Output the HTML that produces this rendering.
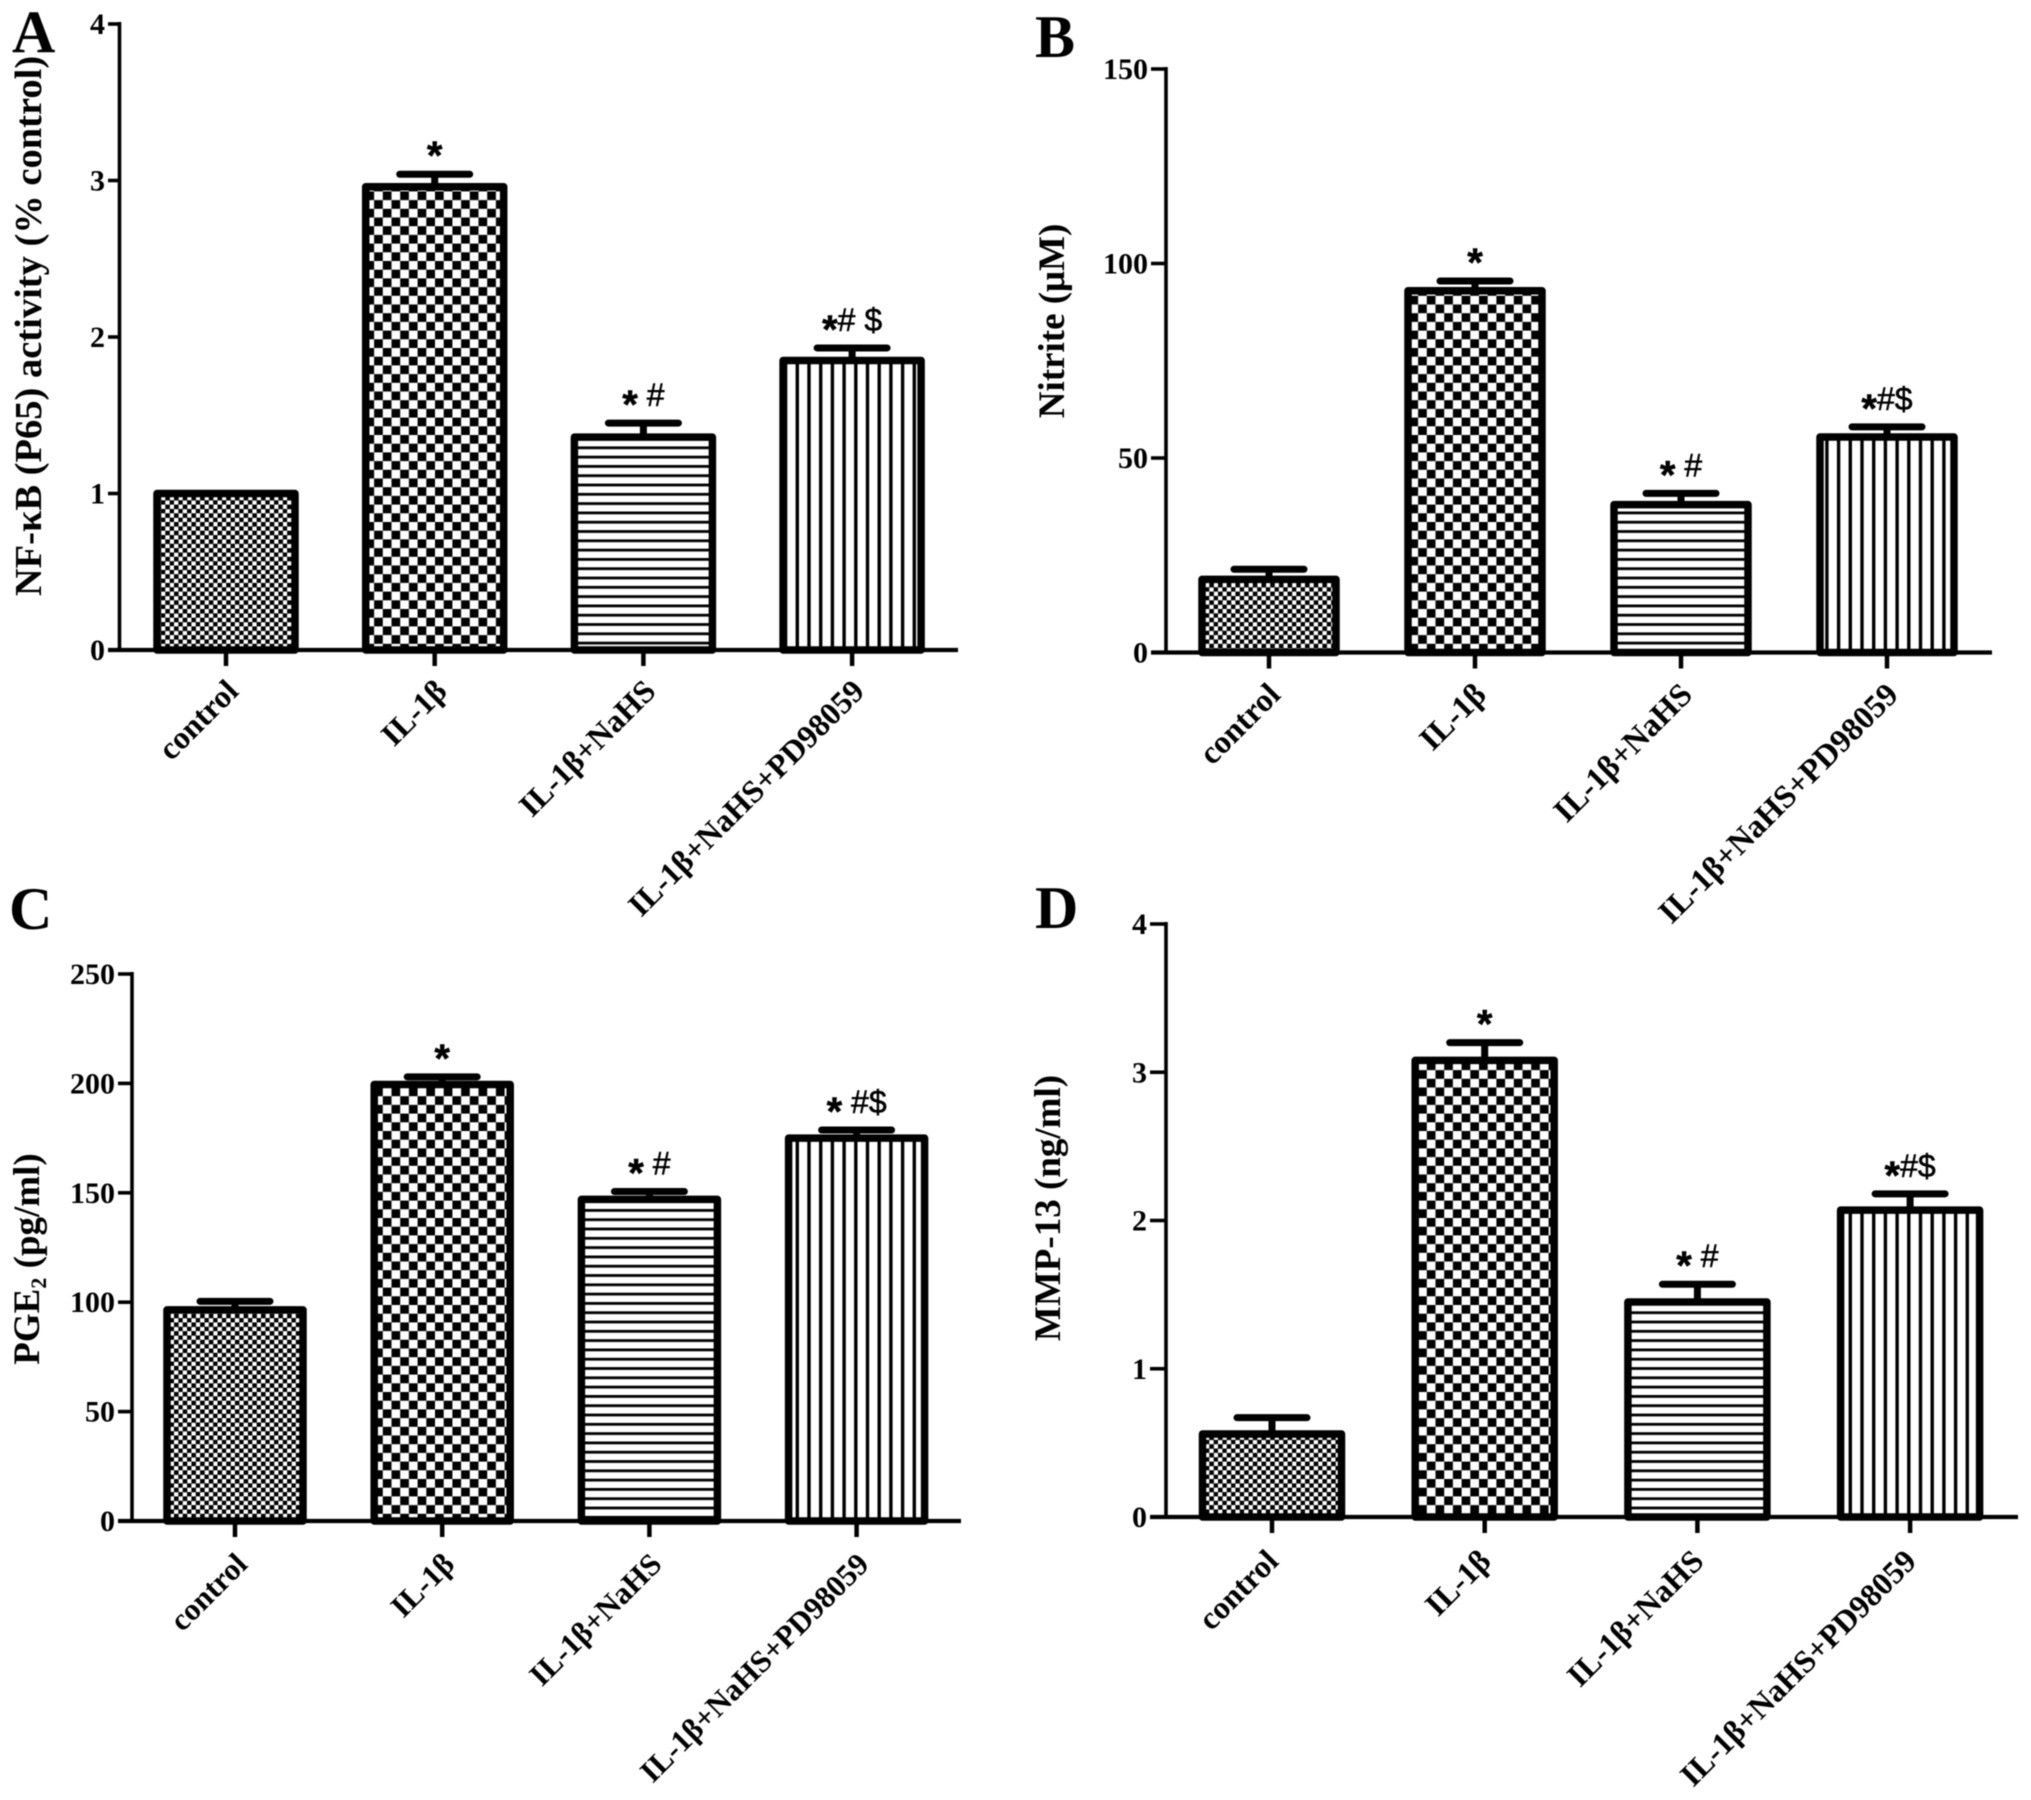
<!DOCTYPE html>
<html lang="en">
<head>
<meta charset="utf-8">
<title>NF-κB, Nitrite, PGE2 and MMP-13 bar charts</title>
<style>
html,body{margin:0;padding:0;background:#fff;width:2031px;height:1800px;overflow:hidden}
svg{display:block;filter:blur(0.4px)}
text{font-family:"Liberation Serif","DejaVu Serif",serif;font-weight:bold;fill:#000}
</style>
</head>
<body>
<svg id="figure" xmlns="http://www.w3.org/2000/svg" width="2031" height="1800" viewBox="0 0 2031 1800">
<rect width="2031" height="1800" fill="#fff"/>
<defs>
<pattern id="fine-check" patternUnits="userSpaceOnUse" width="8.7" height="8.7">
<rect width="8.7" height="8.7" fill="#fff"/>
<rect width="4.6" height="4.6" fill="#000"/>
<rect x="4.35" y="4.35" width="4.6" height="4.6" fill="#000"/>
</pattern>
<pattern id="coarse-check" patternUnits="userSpaceOnUse" width="17.4" height="17.4">
<rect width="17.4" height="17.4" fill="#fff"/>
<rect width="8.7" height="8.7" fill="#000"/>
<rect x="8.7" y="8.7" width="8.7" height="8.7" fill="#000"/>
</pattern>
<pattern id="horizontal-lines" patternUnits="userSpaceOnUse" width="20" height="9.3">
<rect width="20" height="9.3" fill="#fff"/>
<rect y="0" width="20" height="2.8" fill="#000"/>
</pattern>
<pattern id="vertical-lines" patternUnits="userSpaceOnUse" width="11.7" height="20">
<rect width="11.7" height="20" fill="#fff"/>
<rect x="0" width="3.4" height="20" fill="#000"/>
</pattern>
</defs>
</svg>
<script>
// Shared categories
const categories = ["control", "IL-1β", "IL-1β+NaHS", "IL-1β+NaHS+PD98059"];

// Panel A
const panelAValues = [1.0, 2.96, 1.36, 1.85];
const panelAErrors = [0, 0.08, 0.09, 0.08];
const panelATicks = [0, 1, 2, 3, 4];
const panelAMarks = ["", "*", "* #", "*# $"];

// Panel B
const panelBValues = [18.8, 93, 38, 55.4];
const panelBErrors = [2.6, 2.5, 2.9, 2.6];
const panelBTicks = [0, 50, 100, 150];
const panelBMarks = ["", "*", "* #", "*#$"];

// Panel C
const panelCValues = [96.5, 199.5, 147, 175];
const panelCErrors = [3.9, 3.5, 3.6, 3.7];
const panelCTicks = [0, 50, 100, 150, 200, 250];
const panelCMarks = ["", "*", "* #", "* #$"];

// Panel D
const panelDValues = [0.56, 3.08, 1.45, 2.07];
const panelDErrors = [0.11, 0.12, 0.12, 0.11];
const panelDTicks = [0, 1, 2, 3, 4];
const panelDMarks = ["", "*", "* #", "*#$"];

const fills = ["fine-check", "coarse-check", "horizontal-lines", "vertical-lines"];
const NS = "http://www.w3.org/2000/svg";
const root = document.getElementById("figure");

function make(tag, attrs, parent) {
  const el = document.createElementNS(NS, tag);
  for (const k in attrs) el.setAttribute(k, attrs[k]);
  parent.appendChild(el);
  return el;
}

function drawPanel(cfg) {
  const y = v => cfg.y0 - (v - cfg.ticks[0]) / (cfg.ticks[cfg.ticks.length - 1] - cfg.ticks[0]) * (cfg.y0 - cfg.yTop);
  const x = i => cfg.first + i * cfg.step;

  const g = make("g", {}, root);
  
  

  const letter = make("text", {x: cfg.letterX, y: cfg.letterY, "font-size": 60}, g);
  letter.textContent = cfg.id;
  
  

  const title = make("text", {
    transform: "translate(" + cfg.titleX + "," + cfg.titleY + ") rotate(-90)",
    "text-anchor": "middle",
    "font-size": cfg.titleSize
  }, g);
  
  
  if (cfg.sub) {
    const a = make("tspan", {}, title);
    a.textContent = cfg.title[0];
    const s = make("tspan", {"font-size": 22, dy: 7}, title);
    s.textContent = cfg.sub;
    const b = make("tspan", {dy: -7}, title);
    b.textContent = cfg.title[1];
  } else {
    title.textContent = cfg.title;
  }

  // bars, error bars, annotations
  cfg.values.forEach((v, i) => {
    const w = cfg.barW;
    const top = y(v);
    const capY = y(v + cfg.errors[i]);

    const stem = make("line", {x1: x(i), x2: x(i), y1: top, y2: capY, stroke: "#000", "stroke-width": 7}, g);
    
    

    const cap = make("line", {x1: x(i) - 35, x2: x(i) + 35, y1: capY, y2: capY, stroke: "#000", "stroke-width": 7, "stroke-linecap": "round"}, g);
    
    

    const bar = make("rect", {
      x: x(i) - w / 2, y: top, width: w, height: cfg.y0 - top,
      fill: "url(#" + fills[i] + ")", stroke: "#000", "stroke-width": 7.5, "stroke-linejoin": "round"
    }, g);
    
    

    if (cfg.marks[i]) {
      const note = make("text", {
        x: x(i), y: capY - 17, "text-anchor": "middle", "font-size": 32,
        style: 'white-space:pre;font-family:"Liberation Sans",sans-serif;font-weight:normal;stroke:#000;stroke-width:0.5'
      }, g);
      
      
      let shift = 0;
      for (const ch of cfg.marks[i]) {
        const next = ch === "*" ? 12 : 0;
        const t = make("tspan", {dy: next - shift}, note);
        if (ch === "*") {
          t.setAttribute("font-size", 40);
          t.setAttribute("style", "font-weight:bold");
        }
        t.textContent = ch;
        shift = next;
      }
    }

    const tick = make("line", {x1: x(i), x2: x(i), y1: cfg.y0, y2: cfg.y0 + 16, stroke: "#000", "stroke-width": 4.5}, g);
    
    

    const label = make("text", {
      transform: "translate(" + (x(i) + cfg.labelDx) + "," + (cfg.y0 + cfg.labelDy) + ") rotate(-45)",
      "text-anchor": "end",
      "font-size": cfg.labelSize
    }, g);
    label.textContent = categories[i];
    
    
  });

  // axes
  const yAxis = make("line", {x1: cfg.axisX, x2: cfg.axisX, y1: cfg.yTop - 2, y2: cfg.y0 + 2, stroke: "#000", "stroke-width": 3.6}, g);
  
  

  const xAxis = make("line", {x1: cfg.tickLeft, x2: cfg.axisEnd, y1: cfg.y0, y2: cfg.y0, stroke: "#000", "stroke-width": 4.2}, g);
  
  

  cfg.ticks.forEach(t => {
    const tl = make("line", {x1: cfg.tickLeft, x2: cfg.axisX, y1: y(t), y2: y(t), stroke: "#000", "stroke-width": 3.6}, g);
    
    

    const lab = make("text", {x: cfg.tickLeft - 3, y: y(t) + 10, "text-anchor": "end", "font-size": 30}, g);
    lab.textContent = t;
    
    
  });
}

drawPanel({
  id: "A", title: "NF-κB (P65) activity (% control)",
  values: panelAValues, errors: panelAErrors, ticks: panelATicks, marks: panelAMarks,
  axisX: 119.5, tickLeft: 108, axisEnd: 958, y0: 650, yTop: 24,
  first: 226, step: 208.7, barW: 138, titleSize: 38.5, labelSize: 32,
  letterX: 12, letterY: 52, titleX: 41, titleY: 326, labelDx: 14, labelDy: 43
});
drawPanel({
  id: "B", title: "Nitrite (μM)",
  values: panelBValues, errors: panelBErrors, ticks: panelBTicks, marks: panelBMarks,
  axisX: 1166, tickLeft: 1151, axisEnd: 1992, y0: 652.5, yTop: 69,
  first: 1269, step: 206, barW: 134, titleSize: 37, labelSize: 32.5,
  letterX: 1035, letterY: 57, titleX: 1064, titleY: 321, labelDx: 13, labelDy: 44
});
drawPanel({
  id: "C", title: ["PGE", " (pg/ml)"], sub: "2",
  values: panelCValues, errors: panelCErrors, ticks: panelCTicks, marks: panelCMarks,
  axisX: 132, tickLeft: 118, axisEnd: 961, y0: 1521, yTop: 974,
  first: 235, step: 207.2, barW: 136, titleSize: 37, labelSize: 31,
  letterX: 9, letterY: 929, titleX: 39, titleY: 1259, labelDx: 14, labelDy: 45
});
drawPanel({
  id: "D", title: "MMP-13 (ng/ml)",
  values: panelDValues, errors: panelDErrors, ticks: panelDTicks, marks: panelDMarks,
  axisX: 1166, tickLeft: 1150, axisEnd: 2018, y0: 1517, yTop: 924,
  first: 1272, step: 212.7, barW: 139, titleSize: 37, labelSize: 32,
  letterX: 1035, letterY: 928, titleX: 1060, titleY: 1208, labelDx: 8, labelDy: 46
});
</script>
</body>
</html>
